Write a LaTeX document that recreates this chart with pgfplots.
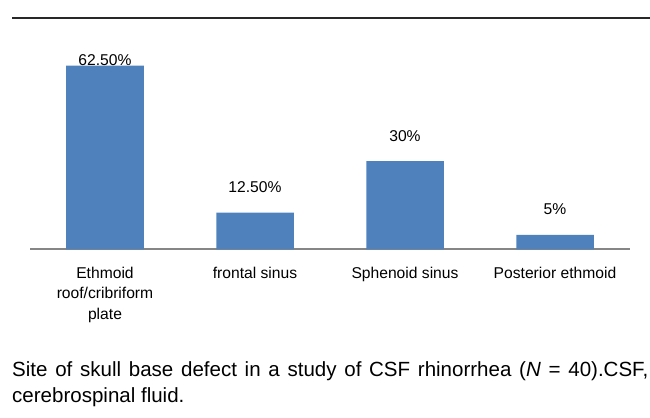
\documentclass[border=0pt]{standalone}
\usepackage{fontspec}
\setmainfont{Liberation Sans}
\usepackage{pgfplots}
\usepackage{pgfplotstable}
\pgfplotsset{compat=1.18}
\definecolor{barblue}{RGB}{79,129,189}
\definecolor{axisgray}{RGB}{134,134,134}
\definecolor{ruledark}{RGB}{40,40,40}

\pgfplotstableread{
x y lab off
0 62.5 {62.50\%} 0
1 12.5 {12.50\%} 20
2 30 {30\%} 20
3 5 {5\%} 20
}\datatable

\begin{document}
\begin{tikzpicture}
\useasboundingbox (0,0) rectangle (650bp,418bp);
\draw[line width=1.3bp, ruledark] (12bp,400bp) -- (680bp,400bp);
\begin{axis}[
  at={(30bp,168.5bp)}, anchor=south west,
  scale only axis, width=600bp, height=206bp,
  xmin=-0.5, xmax=3.5, ymin=0, ymax=70,
  clip=false,
  axis x line*=bottom, axis y line=none,
  x axis line style={draw=axisgray, line width=2bp, -},
  xtick={0,1,2,3},
  xticklabels={{Ethmoid\\roof/cribriform\\plate},{frontal sinus},{Sphenoid sinus},{Posterior ethmoid}},
  major tick length=0pt,
  xticklabel style={font=\fontsize{15.7}{20.5}\selectfont, align=center, yshift=-14bp, text=black},
  ytick=\empty,
]
\addplot[ybar, bar width=77.5bp, fill=barblue, draw=none,
  nodes near coords, point meta=explicit symbolic,
  visualization depends on={\thisrow{off}\as\off},
  every node near coord/.append style={anchor=base, yshift=\off*1bp, font=\fontsize{15.7}{18}\selectfont, text=black}]
  table[x=x, y=y, meta=lab]{\datatable};
\end{axis}
\node[anchor=base west, inner sep=0pt, font=\fontsize{20.6}{25}\selectfont] at (12bp,41bp) {\makebox[636bp][s]{Site of skull base defect in a study of CSF rhinorrhea (\textit{N} = 40).CSF,}};
\node[anchor=base west, inner sep=0pt, font=\fontsize{20.6}{25}\selectfont] at (12bp,16bp) {cerebrospinal fluid.};
\end{tikzpicture}
\end{document}
